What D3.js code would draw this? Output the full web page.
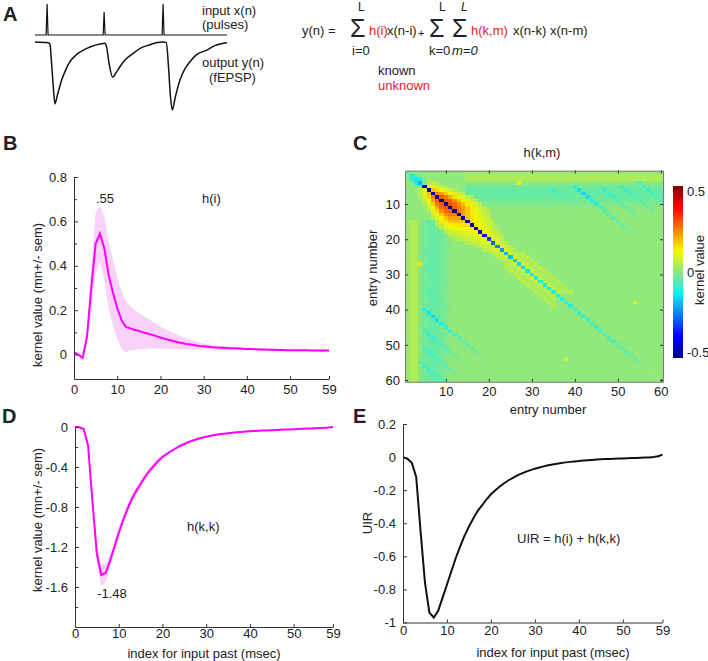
<!DOCTYPE html>
<html>
<head>
<meta charset="utf-8">
<script src="https://cdn.jsdelivr.net/npm/d3@7"></script>
<style>
body { margin: 0; background: #fff; }
svg text { font-family: "Liberation Sans", Arial, Helvetica, sans-serif; fill: #222; }
</style>
</head>
<body>
<svg id="fig" width="708" height="661"></svg>
<script>
// ---- data ----
// A: stimulus pulses and fEPSP trace (arbitrary time units 0..100, response normalised)
var pulseTimes = [6.3, 36, 66.7];
var pulseHeights = [1, 0.74, 1];
var fepspT = [0, 7, 7.8, 8.6, 9.5, 10.4, 11.5, 13.9, 16, 18.2, 21, 25.2, 29, 33.9, 36.4, 37.2, 38.5, 40.5, 42, 44.3, 47, 51, 55, 59.9, 63, 66.7, 68.4, 69.5, 70.5, 71.5, 73, 75.5, 78, 80.7, 84, 89.4, 94, 100];
var fepspV = [0, -0.01, -0.03, -0.3, -0.65, -0.91, -0.8, -0.56, -0.41, -0.29, -0.2, -0.12, -0.07, -0.03, -0.02, -0.06, -0.3, -0.52, -0.46, -0.36, -0.26, -0.17, -0.09, -0.04, -0.01, 0, -0.01, -0.35, -0.78, -1.0, -0.82, -0.56, -0.4, -0.29, -0.19, -0.12, -0.05, -0.01];

// B, D, E: kernels vs index for input past (msec)
var lags = d3.range(60);
var xTickVals = [0, 10, 20, 30, 40, 50, 59];
var hiMean = [0.01,0.0,-0.015,0.08,0.3,0.5,0.545,0.48,0.36,0.28,
  0.21,0.155,0.125,0.118,0.112,0.106,0.1,0.095,0.089,0.083,
  0.077,0.071,0.066,0.061,0.056,0.052,0.048,0.045,0.042,0.039,
  0.037,0.035,0.033,0.032,0.031,0.03,0.029,0.028,0.027,0.026,
  0.025,0.025,0.024,0.023,0.023,0.022,0.022,0.021,0.021,0.02,
  0.02,0.02,0.019,0.019,0.019,0.018,0.018,0.018,0.018,0.018];
var hiSem = [0.005,0.005,0.008,0.03,0.1,0.14,0.125,0.14,0.15,0.15,
  0.14,0.13,0.115,0.1,0.09,0.082,0.075,0.068,0.062,0.056,
  0.05,0.045,0.04,0.036,0.032,0.028,0.024,0.021,0.018,0.015,
  0.013,0.011,0.01,0.009,0.008,0.008,0.007,0.007,0.006,0.006,
  0.005,0.005,0.005,0.005,0.005,0.005,0.005,0.005,0.005,0.005,
  0.005,0.005,0.005,0.005,0.005,0.005,0.005,0.005,0.005,0.005];
var hkkMean = [0,-0.003,-0.02,-0.19,-0.75,-1.27,-1.48,-1.46,-1.34,-1.2,
  -1.06,-0.93,-0.82,-0.72,-0.64,-0.57,-0.5,-0.44,-0.39,-0.34,
  -0.30,-0.27,-0.24,-0.215,-0.19,-0.17,-0.15,-0.135,-0.12,-0.108,
  -0.097,-0.088,-0.08,-0.073,-0.067,-0.062,-0.057,-0.053,-0.049,-0.046,
  -0.043,-0.04,-0.038,-0.036,-0.034,-0.032,-0.03,-0.028,-0.026,-0.024,
  -0.022,-0.02,-0.018,-0.016,-0.014,-0.012,-0.01,-0.008,-0.005,0.0];
var hkkSem = [0,0.003,0.01,0.03,0.06,0.08,0.11,0.09,0.07,0.06,
  0.05,0.045,0.045,0.045,0.04,0.04,0.035,0.03,0.028,0.025,
  0.022,0.02,0.018,0.016,0.014,0.012,0.011,0.01,0.009,0.008,
  0.006,0.006,0.006,0.006,0.006,0.006,0.006,0.006,0.006,0.006,
  0.006,0.006,0.006,0.006,0.006,0.006,0.006,0.006,0.006,0.006,
  0.006,0.006,0.006,0.006,0.006,0.006,0.006,0.006,0.006,0.006];
var uir = [0,-0.01,-0.035,-0.12,-0.45,-0.76,-0.94,-0.97,-0.93,-0.85,
  -0.77,-0.69,-0.61,-0.54,-0.475,-0.42,-0.37,-0.325,-0.29,-0.255,
  -0.225,-0.2,-0.178,-0.158,-0.14,-0.125,-0.111,-0.099,-0.088,-0.079,
  -0.07,-0.063,-0.056,-0.05,-0.045,-0.04,-0.036,-0.032,-0.029,-0.026,
  -0.023,-0.021,-0.019,-0.017,-0.015,-0.013,-0.012,-0.011,-0.01,-0.009,
  -0.008,-0.007,-0.006,-0.005,-0.004,-0.003,-0.002,0.0,0.005,0.015];

// C: h(k,m), symmetric 60x60 kernel
var entryTicks = [10, 20, 30, 40, 50, 60];
var bgVal = 0.005;
var diagVals = [-0.06,-0.12,-0.15,-0.2,-0.5,-0.55,-0.55,-0.55,-0.55,-0.55,
  -0.55,-0.55,-0.54,-0.54,-0.53,-0.5,-0.45,-0.42,-0.38,-0.33,
  -0.29,-0.26,-0.23,-0.21,-0.19,-0.18,-0.17,-0.16,-0.15,-0.14,
  -0.14,-0.13,-0.13,-0.13,-0.12,-0.12,-0.11,-0.11,-0.1,-0.1,
  -0.09,-0.09,-0.08,-0.08,-0.08,-0.07,-0.07,-0.07,-0.06,-0.06,
  -0.06,-0.05,-0.05,-0.04,-0.03,0.01,0.01,0.01,0.01,0.01];
// values next to the diagonal, row k, offsets 1,2,3...
var nearRows = [
  [0.0, 0.02],
  [-0.08, -0.02],
  [-0.12, -0.03, 0.03],
  [-0.02, 0.06, 0.06, 0.05],
  [0.12, 0.1, 0.08, 0.06, 0.04],
  [0.2, 0.17, 0.13, 0.1, 0.07, 0.05],
  [0.26, 0.23, 0.18, 0.13, 0.1, 0.07, 0.05],
  [0.3, 0.27, 0.22, 0.16, 0.12, 0.09, 0.06, 0.04],
  [0.31, 0.29, 0.25, 0.19, 0.14, 0.11, 0.07, 0.05],
  [0.32, 0.29, 0.25, 0.2, 0.15, 0.11, 0.08, 0.05],
  [0.3, 0.27, 0.23, 0.18, 0.14, 0.1, 0.07, 0.05],
  [0.27, 0.23, 0.19, 0.15, 0.12, 0.09, 0.06, 0.04],
  [0.23, 0.19, 0.15, 0.12, 0.1, 0.07, 0.05],
  [0.19, 0.16, 0.13, 0.1, 0.08, 0.06],
  [0.16, 0.14, 0.11, 0.09, 0.07, 0.05],
  [0.15, 0.12, 0.1, 0.08, 0.06],
  [0.14, 0.11, 0.09, 0.07, 0.05],
  [0.13, 0.1, 0.08, 0.06],
  [0.12, 0.09, 0.07, 0.05],
  [0.11, 0.09, 0.06],
  [0.1, 0.08, 0.06],
  [0.1, 0.07, 0.05],
  [0.09, 0.06, 0.04],
  [0.08, 0.05, 0.04, 0.06],
  [0.08, 0.05, 0.04, 0.06],
  [0.08, 0.05, 0.03, 0.06],
  [0.08, 0.05, 0.03, 0.06],
  [0.07, 0.05, 0.03, 0.06],
  [0.07, 0.05, 0.03, 0.06],
  [0.07, 0.04, 0.03, 0.05],
  [0.07, 0.04, 0.03, 0.05],
  [0.06, 0.04, 0.03, 0.05],
  [0.06, 0.04, 0.03, 0.05],
  [0.06, 0.04, 0.03, 0.05],
  [0.06, 0.04, 0.03, 0.05]
];
// faint cyan band along the first entries (rows 1..11), for columns >= bandFrom
var bandVals = [0.01, 0.04, 0.04, 0.0, -0.03, -0.04, -0.045, -0.04, -0.03, -0.015, 0.0];
var bandFrom = 15;
// diagonal cyan stripes: [offset |k-m|, first row, values along the stripe]
var stripes = [
  [18, 5, [-0.04, -0.05, -0.04, -0.03, -0.02]],
  [23, 5, [-0.04, -0.05, -0.05, -0.04, -0.03, -0.02]],
  [29, 5, [-0.05, -0.07, -0.06, -0.05, -0.04, -0.03, -0.02]],
  [35, 5, [-0.12, -0.15, -0.16, -0.15, -0.13, -0.11, -0.09, -0.08, -0.07, -0.06, -0.05, -0.04, -0.03, -0.02]],
  [41, 5, [-0.07, -0.09, -0.09, -0.08, -0.07, -0.06, -0.05, -0.04, -0.03]],
  [46, 5, [-0.07, -0.08, -0.08, -0.07, -0.06, -0.05, -0.04, -0.03]],
  [51, 4, [-0.07, -0.08, -0.09, -0.08, -0.07, -0.06, -0.05, -0.04]]
];
var spots = [[4, 27, 0.15], [38, 54, 0.08]];
var cbTicks = [-0.5, 0, 0.5];

// ---- drawing ----
var svg = d3.select("#fig");
var red = "#e3221f";

function txt(x, y, s, o) {
  o = o || {};
  var t = svg.append("text").attr("x", x).attr("y", y).text(s)
    .attr("font-size", o.size || 13)
    .attr("text-anchor", o.anchor || "start");
  if (o.bold) t.attr("font-weight", "bold");
  if (o.fill) t.style("fill", o.fill);
  if (o.italic) t.attr("font-style", "italic");
  if (o.rot) t.attr("transform", "rotate(-90," + x + "," + y + ")");
  return t;
}

// panel letters
txt(3, 21, "A", {size: 20, bold: true});
txt(3, 150, "B", {size: 20, bold: true});
txt(353, 150, "C", {size: 20, bold: true});
txt(2, 423, "D", {size: 20, bold: true});
txt(353, 423, "E", {size: 20, bold: true});

// ---- A: traces ----
var xA = d3.scaleLinear().domain([0, 100]).range([35, 227]);
var yIn = d3.scaleLinear().domain([0, 1]).range([35, 4]);
var yOut = d3.scaleLinear().domain([-1, 0]).range([110, 42]);
var inPts = [[0, 0]];
pulseTimes.forEach(function (t, i) {
  inPts.push([t - 0.5, 0], [t, pulseHeights[i]], [t + 0.5, 0]);
});
inPts.push([100, 0]);
svg.append("path").datum(inPts)
  .attr("d", d3.line().x(function (d) { return xA(d[0]); }).y(function (d) { return yIn(d[1]); }))
  .attr("fill", "none").attr("stroke", "#111").attr("stroke-width", 1.2);
svg.append("path").datum(fepspT)
  .attr("d", d3.line().curve(d3.curveMonotoneX)
    .x(function (d) { return xA(d); })
    .y(function (d, i) { return yOut(fepspV[i]); }))
  .attr("fill", "none").attr("stroke", "#111").attr("stroke-width", 1.5);
txt(202, 15, "input x(n)");
txt(202, 29, "(pulses)");
txt(202, 67, "output y(n)");
txt(209, 82, "(fEPSP)");

// equation
txt(302, 35, "y(n) =");
txt(350, 37, "\u03A3", {size: 25});
txt(358, 11, "L", {size: 12});
txt(352, 55, "i=0");
txt(369, 35, "h(i)", {fill: red});
txt(387, 35, "x(n-i)");
txt(418, 37, "+", {size: 11});
txt(429, 37, "\u03A3", {size: 25});
txt(439, 11, "L", {size: 12});
txt(429, 55, "k=0");
txt(452, 37, "\u03A3", {size: 25});
txt(461, 11, "L", {size: 12, italic: true});
txt(452, 55, "m=0", {italic: true});
txt(471, 35, "h(k,m)", {fill: red});
txt(513, 35, "x(n-k)");
txt(550, 35, "x(n-m)");
txt(378, 75, "known");
txt(378, 90, "unknown", {fill: red});

// ---- generic line panel ----
function styleAxis(g) {
  g.attr("font-family", null).attr("font-size", 13);
  g.selectAll("path, line").attr("stroke", "#333");
  g.selectAll("text").style("fill", "#222");
}
function linePanel(p) {
  var x = d3.scaleLinear().domain([0, 59]).range(p.xr);
  var y = d3.scaleLinear().domain(p.yd).range(p.yr);
  if (p.sem) {
    svg.append("path").datum(p.mean)
      .attr("d", d3.area()
        .x(function (d, i) { return x(lags[i]); })
        .y0(function (d, i) { return y(d - p.sem[i]); })
        .y1(function (d, i) { return y(d + p.sem[i]); }))
      .attr("fill", p.bandFill);
  }
  svg.append("path").datum(p.mean)
    .attr("d", d3.line().x(function (d, i) { return x(lags[i]); }).y(function (d) { return y(d); }))
    .attr("fill", "none").attr("stroke", p.color).attr("stroke-width", p.sw);
  var fmt = function (d) { return String(d); };
  var gy = svg.append("g").attr("transform", "translate(" + p.xr[0] + ",0)")
    .call(d3.axisLeft(y).tickValues(p.yTicks).tickFormat(fmt).tickSize(-4).tickSizeOuter(0).tickPadding(7));
  styleAxis(gy);
  if (p.yMinor) {
    var gm = svg.append("g").attr("transform", "translate(" + p.xr[0] + ",0)")
      .call(d3.axisLeft(y).tickValues(p.yMinor).tickFormat("").tickSize(-3).tickSizeOuter(0));
    gm.select(".domain").remove();
    styleAxis(gm);
  }
  var gx = svg.append("g").attr("transform", "translate(0," + p.yr[0] + ")")
    .call(d3.axisBottom(x).tickValues(xTickVals).tickFormat(fmt).tickSize(-3).tickSizeOuter(0).tickPadding(p.xPad));
  styleAxis(gx);
  return {x: x, y: y};
}

// ---- B ----
linePanel({xr: [74, 329], yd: [-0.11, 0.8], yr: [379, 177], mean: hiMean, sem: hiSem,
  bandFill: "#f8d2f8", color: "#ff00ff", sw: 2,
  yTicks: [0, 0.2, 0.4, 0.6, 0.8], yMinor: [0.1, 0.3, 0.5, 0.7], xPad: 6});
txt(105, 203, ".55", {anchor: "middle"});
txt(202, 203, "h(i)");
txt(42, 295, "kernel value (mn+/- sem)", {anchor: "middle", rot: true});

// ---- D ----
linePanel({xr: [75, 333], yd: [-2, 0], yr: [627, 427], mean: hkkMean, sem: hkkSem,
  bandFill: "#f6d2f6", color: "#ff00ff", sw: 2,
  yTicks: [0, -0.4, -0.8, -1.2, -1.6], yMinor: [-0.2, -0.6, -1.0, -1.4, -1.8], xPad: 2});
txt(112, 598, "-1.48", {anchor: "middle"});
txt(187, 531, "h(k,k)");
txt(42, 520, "kernel value (mn+/- sem)", {anchor: "middle", rot: true});
txt(204, 658, "index for input past (msec)", {anchor: "middle"});

// ---- E ----
linePanel({xr: [403, 662.5], yd: [-1, 0.2], yr: [622.5, 424], mean: uir,
  color: "#111", sw: 2,
  yTicks: [0.2, 0, -0.2, -0.4, -0.6, -0.8, -1], xPad: 3});
txt(517, 543, "UIR = h(i) + h(k,k)");
txt(372, 523, "UIR", {anchor: "middle", rot: true});
txt(553, 657, "index for input past (msec)", {anchor: "middle"});

// ---- C: heat map ----
var cbMax = 0.535;
var jetStops = [0, 0.125, 0.375, 0.5, 0.625, 0.875, 1];
var jet = d3.scaleLinear()
  .domain(jetStops.map(function (s) { return -cbMax + 2 * cbMax * s; }))
  .range(["#00008f", "#0000ff", "#10f0f0", "#8ee880", "#f8f800", "#ff0000", "#800000"])
  .clamp(true);

function kernelAt(a, b) {
  var d = b - a;
  if (d === 0) return diagVals[a - 1];
  var v = bgVal;
  if (a <= bandVals.length && b >= bandFrom && d >= 6) v = bandVals[a - 1];
  var nr = nearRows[a - 1];
  if (nr && d <= nr.length) v = nr[d - 1];
  stripes.forEach(function (s) {
    var j = a - s[1];
    if (d === s[0] && j >= 0 && j < s[2].length) v = Math.min(v, s[2][j]);
  });
  spots.forEach(function (s) { if (s[0] === a && s[1] === b) v = s[2]; });
  return v;
}
var cells = [];
d3.range(1, 61).forEach(function (r) {
  d3.range(1, 61).forEach(function (c) {
    cells.push({r: r, c: c, v: kernelAt(Math.min(r, c), Math.max(r, c))});
  });
});

var xC = d3.scaleLinear().domain([0.5, 60.5]).range([405, 663]);
var yC = d3.scaleLinear().domain([0.5, 60.5]).range([170.6, 381.8]);
svg.append("g").selectAll("rect").data(cells).enter().append("rect")
  .attr("x", function (d) { return xC(d.c - 0.5); })
  .attr("y", function (d) { return yC(d.r - 0.5); })
  .attr("width", xC(1.5) - xC(0.5) + 0.3)
  .attr("height", yC(1.5) - yC(0.5) + 0.3)
  .attr("fill", function (d) { return jet(d.v); })
  .attr("shape-rendering", "crispEdges");

var gcl = svg.append("g").attr("transform", "translate(405,0)")
  .call(d3.axisLeft(yC).tickValues(entryTicks).tickSize(-3).tickSizeOuter(0).tickPadding(5));
var gcr = svg.append("g").attr("transform", "translate(663,0)")
  .call(d3.axisRight(yC).tickValues(entryTicks).tickFormat("").tickSize(-3).tickSizeOuter(0));
var gcb = svg.append("g").attr("transform", "translate(0,381.8)")
  .call(d3.axisBottom(xC).tickValues(entryTicks).tickSize(-3).tickSizeOuter(0).tickPadding(5));
var gct = svg.append("g").attr("transform", "translate(0,170.6)")
  .call(d3.axisTop(xC).tickValues(entryTicks).tickFormat("").tickSize(-3).tickSizeOuter(0));
[gcl, gcr, gcb, gct].forEach(function (g) {
  styleAxis(g);
  g.select(".domain").attr("stroke", "#777");
});

txt(542, 157, "h(k,m)", {anchor: "middle"});
txt(548, 414, "entry number", {anchor: "middle"});
txt(377, 268, "entry number", {anchor: "middle", rot: true});

// colour bar
var cbY = d3.scaleLinear().domain([-cbMax, cbMax]).range([358, 186]);
var grad = svg.append("defs").append("linearGradient").attr("id", "jetgrad")
  .attr("x1", 0).attr("y1", 1).attr("x2", 0).attr("y2", 0);
d3.range(0, 1.0001, 0.0625).forEach(function (s) {
  grad.append("stop").attr("offset", s).attr("stop-color", jet(-cbMax + 2 * cbMax * s));
});
svg.append("rect").attr("x", 673).attr("y", cbY(cbMax)).attr("width", 10)
  .attr("height", cbY(-cbMax) - cbY(cbMax)).attr("fill", "url(#jetgrad)");
var gcbar = svg.append("g").attr("transform", "translate(683,0)")
  .call(d3.axisRight(cbY).tickValues(cbTicks).tickFormat(function (d) { return String(d); })
    .tickSize(0).tickPadding(4));
gcbar.select(".domain").remove();
styleAxis(gcbar);
txt(704, 270, "kernel value", {anchor: "middle", rot: true});
</script>
</body>
</html>
